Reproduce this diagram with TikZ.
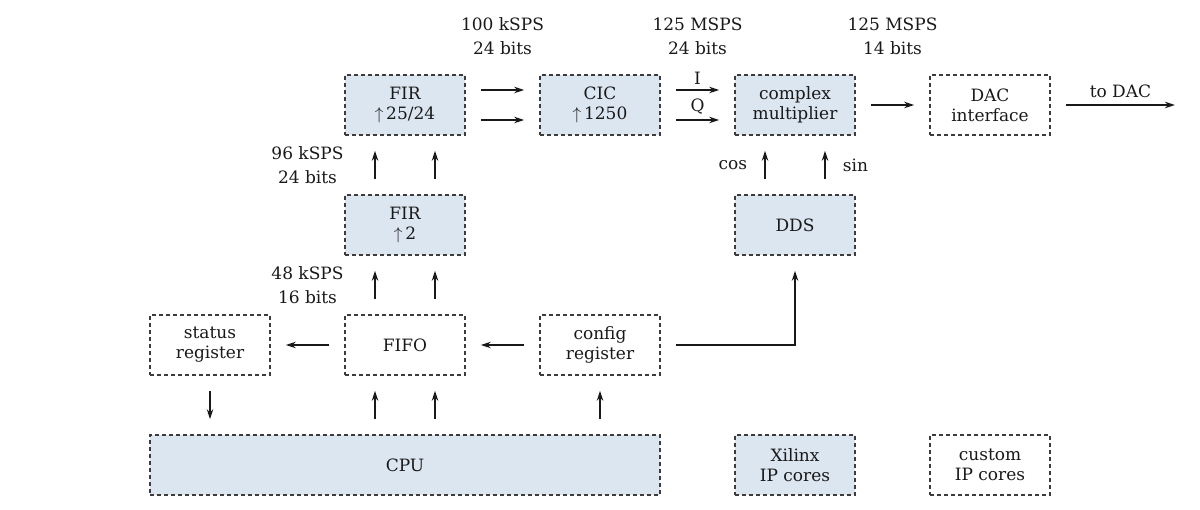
\documentclass[tikz,border=0pt]{standalone}
\usepackage{fontspec}
\setmainfont{DejaVu Serif}
\usetikzlibrary{arrows.meta}
\definecolor{boxfill}{RGB}{220,230,241}
\definecolor{edge}{RGB}{60,60,60}
\definecolor{ink}{RGB}{25,25,25}
\begin{document}
\begin{tikzpicture}[x=1pt,y=-1pt,
  blk/.style={draw=edge, dash pattern=on 4pt off 3pt, line width=1.8pt, minimum width=120pt, minimum height=60pt, inner sep=0pt, align=center, font=\fontsize{17}{20}\selectfont, text=ink},
  ip/.style={blk, fill=boxfill},
  lbl/.style={align=center, font=\fontsize{17}{24}\selectfont, text=ink, inner sep=0pt},
  arr/.style={draw=ink, line width=1.8pt, -{Stealth[length=10pt,width=6.5pt]}, shorten <=15pt, shorten >=15pt}
]
\useasboundingbox (0,0) rectangle (1200,510);

% blocks
\node[ip] (fir2524) at (405,105) {FIR\\$\uparrow$\,25/24};
\node[ip] (cic) at (600,105) {CIC\\$\uparrow$\,1250};
\node[ip] (cmul) at (795,105) {complex\\multiplier};
\node[blk] (dac) at (990,105) {DAC\\interface};
\node[ip] (fir2) at (405,225) {FIR\\$\uparrow$\,2};
\node[ip] (dds) at (795,225) {DDS};
\node[blk] (status) at (210,345) {status\\register};
\node[blk] (fifo) at (405,345) {FIFO};
\node[blk] (config) at (600,345) {config\\register};
\node[ip, minimum width=510pt] (cpu) at (405,465) {CPU};
\node[ip] (xil) at (795,465) {Xilinx\\IP cores};
\node[blk] (cust) at (990,465) {custom\\IP cores};

% rate labels
\node[lbl] (r1) at (502.5,36.5) {100 kSPS\\24 bits};
\node[lbl] (r2) at (697.5,36.5) {125 MSPS\\24 bits};
\node[lbl] (r3) at (892.5,36.5) {125 MSPS\\14 bits};
\node[lbl] (r4) at (307.5,165) {96 kSPS\\24 bits};
\node[lbl] (r5) at (307.5,285) {48 kSPS\\16 bits};

% horizontal data path
\draw[arr] ([yshift=15pt]fir2524.east) -- ([yshift=15pt]cic.west);
\draw[arr] ([yshift=-15pt]fir2524.east) -- ([yshift=-15pt]cic.west);
\draw[arr] ([yshift=15pt]cic.east) -- node[lbl, above=5pt] {I} ([yshift=15pt]cmul.west);
\draw[arr] ([yshift=-15pt]cic.east) -- node[lbl, above=5pt] {Q} ([yshift=-15pt]cmul.west);
\draw[arr] (cmul.east) -- (dac.west);
\coordinate (out) at (1190,105);
\draw[arr] (dac.east) -- node[lbl, above=6pt] {to DAC} (out);

% vertical data path
\draw[arr] ([xshift=-30pt]fir2.north) -- ([xshift=-30pt]fir2524.south);
\draw[arr] ([xshift=30pt]fir2.north) -- ([xshift=30pt]fir2524.south);
\draw[arr] ([xshift=-30pt]fifo.north) -- ([xshift=-30pt]fir2.south);
\draw[arr] ([xshift=30pt]fifo.north) -- ([xshift=30pt]fir2.south);
\draw[arr] ([xshift=-30pt]dds.north) -- node[lbl, left=17pt] {cos} ([xshift=-30pt]cmul.south);
\draw[arr] ([xshift=30pt]dds.north) -- node[lbl, right=17pt] {sin} ([xshift=30pt]cmul.south);

% control path
\draw[arr] (config.west) -- (fifo.east);
\draw[arr] (fifo.west) -- (status.east);
\draw[arr] (config.east) -- (dds.south |- config.east) -- (dds.south);
\draw[arr] (status.south) -- (status.south |- cpu.north);
\coordinate (fl) at ([xshift=-30pt]fifo.south);
\coordinate (fr) at ([xshift=30pt]fifo.south);
\draw[arr] (fl |- cpu.north) -- (fl);
\draw[arr] (fr |- cpu.north) -- (fr);
\draw[arr] (config.south |- cpu.north) -- (config.south);
\end{tikzpicture}
\end{document}
